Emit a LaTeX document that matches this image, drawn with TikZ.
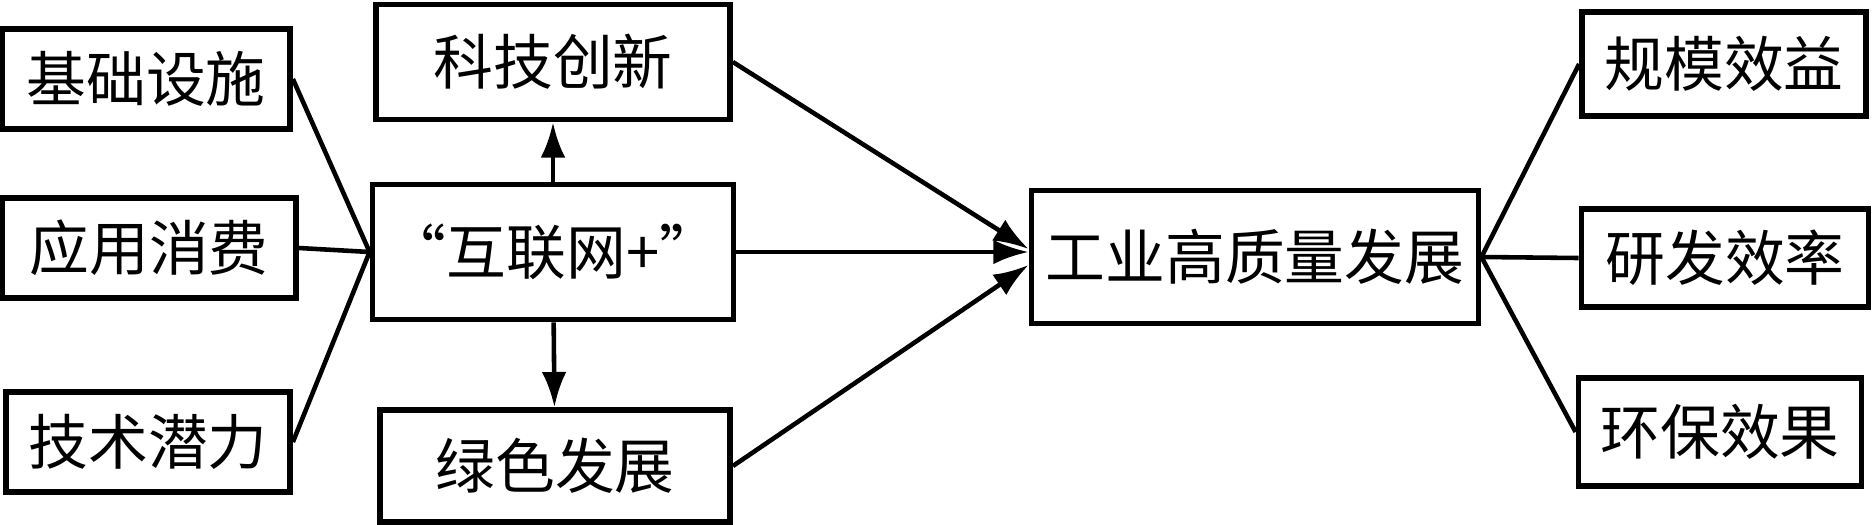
\documentclass[tikz,border=0pt]{standalone}
\usepackage{fontspec}
\setmainfont{Noto Sans CJK SC}
\usepackage{tikz}
\usetikzlibrary{positioning, arrows.meta}

\begin{document}
\begin{tikzpicture}[x=0.01cm, y=-0.01cm]
					\tikzstyle{box}=[rectangle,draw=black,line width=1.6pt,inner sep=0pt,font=\fontsize{17}{20}\selectfont]
					\tikzstyle{link}=[line width=1.3pt]
					\tikzstyle{arr}=[line width=1.3pt,-{Latex[length=10pt,width=7pt]}]
					\useasboundingbox (0,0) rectangle (1872,524);
					\node[box,minimum width=2.88cm,minimum height=1.0cm](jc) at (146,79){基础设施};
					\node[box,minimum width=2.94cm,minimum height=1.0cm](yy) at (149,248){应用消费};
					\node[box,minimum width=2.84cm,minimum height=1.0cm](js) at (148,442){技术潜力};
					\node[box,minimum width=3.54cm,minimum height=1.15cm](kj) at (553,62){科技创新};
					\node[box,minimum width=3.61cm,minimum height=1.35cm](hlw) at (553,252){“互联网+”};
					\node[box,minimum width=3.50cm,minimum height=1.12cm](ls) at (555,466){绿色发展};
					\node[box,minimum width=4.47cm,minimum height=1.33cm](gy) at (1255,257){工业高质量发展};
					\node[box,minimum width=2.84cm,minimum height=1.04cm](gm) at (1724,64){规模效益};
					\node[box,minimum width=2.87cm,minimum height=0.98cm](yf) at (1725,258){研发效率};
					\node[box,minimum width=2.83cm,minimum height=1.08cm](hb) at (1720,432){环保效果};
					\path[link]
						(jc.east) edge (hlw.west)
						(yy.east) edge (hlw.west)
						(js.east) edge (hlw.west)
						(gy.east) edge (gm.west)
						(gy.east) edge (yf.west)
						(gy.east) edge (hb.west);
					\path[arr]
						(hlw) edge (kj)
						(hlw) edge (ls)
						(kj.east) edge ([yshift=0.08cm]gy.west)
						(hlw.east) edge (hlw.east -| gy.west)
						(ls.east) edge ([yshift=-0.08cm]gy.west);
				\end{tikzpicture}
\end{document}
